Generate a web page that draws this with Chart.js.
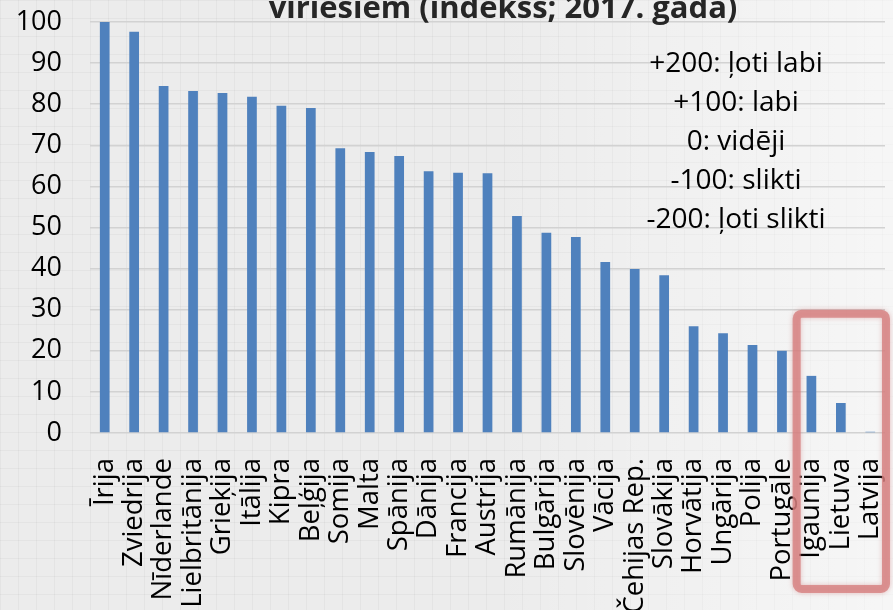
<!DOCTYPE html>
<html>
<head>
<meta charset="utf-8">
<script src="https://cdn.jsdelivr.net/npm/chart.js@4/dist/chart.umd.min.js"></script>
<style>
  html, body { margin: 0; padding: 0; }
  body {
    width: 893px; height: 610px; overflow: hidden;
    background-color: #ececec;
    background-image:
      linear-gradient(to right, rgba(255,255,255,0) 55%, rgba(255,255,255,0.55) 100%),
      repeating-linear-gradient(to right, rgba(0,0,0,0.035) 0 1px, transparent 1px 18px),
      repeating-linear-gradient(to bottom, rgba(0,0,0,0.035) 0 1px, transparent 1px 18px);
  }
  #wrap { position: relative; width: 893px; height: 610px; }
</style>
</head>
<body>
<div id="wrap"><canvas id="chart" width="893" height="610"></canvas></div>
<script>
// Chart data
const countries = ['Īrija', 'Zviedrija', 'Nīderlande', 'Lielbritānija', 'Grieķija', 'Itālija', 'Kipra',
    'Beļģija', 'Somija', 'Malta', 'Spānija', 'Dānija', 'Francija', 'Austrija', 'Rumānija', 'Bulgārija',
    'Slovēnija', 'Vācija', 'Čehijas Rep.', 'Slovākija', 'Horvātija', 'Ungārija', 'Polija', 'Portugāle',
    'Igaunija', 'Lietuva', 'Latvija'];
const indexValues = [100, 97.6, 84.4, 83.2, 82.7, 81.8, 79.6, 79.1, 69.3, 68.4, 67.4, 63.7, 63.3, 63.2,
    52.8, 48.7, 47.7, 41.6, 39.9, 38.4, 26, 24.3, 21.4, 20, 13.9, 7.3, 0.3];
const yTicks = [0, 10, 20, 30, 40, 50, 60, 70, 80, 90, 100];
const scaleNotes = ['+200: ļoti labi', '+100: labi', '0: vidēji', '-100: slikti', '-200: ļoti slikti'];
const titleLine = 'vīriešiem (indekss; 2017. gadā)';
const highlighted = ['Igaunija', 'Lietuva', 'Latvija'];

const FONT = '"Open Sans", sans-serif';

// Title (cut off at top), notes and the red frame
const extras = {
    id: 'extras',
    afterDraw(chart) {
        const ctx = chart.ctx;
        const x = chart.scales.x, y = chart.scales.y;
        ctx.save();
        ctx.fillStyle = '#262626';
        ctx.font = 'bold 31px ' + FONT;
        ctx.textAlign = 'center';
        ctx.textBaseline = 'alphabetic';
        ctx.fillText(titleLine, 503, 18);

        ctx.fillStyle = '#000';
        ctx.font = '28px ' + FONT;
        ctx.textBaseline = 'middle';
        scaleNotes.forEach((t, i) => ctx.fillText(t, 736, 64 + i * 39));

        // frame round the last three countries
        const half = (x.getPixelForValue(1) - x.getPixelForValue(0)) / 2;
        const left = x.getPixelForValue(countries.indexOf(highlighted[0])) - half;
        const right = x.getPixelForValue(countries.indexOf(highlighted[highlighted.length - 1])) + half + 1;
        const top = y.getPixelForValue(30) + 4;
        const bottom = chart.height - 21;
        ctx.strokeStyle = 'rgba(214, 128, 128, 0.8)';
        ctx.lineWidth = 8;
        ctx.shadowColor = 'rgba(200, 90, 90, 0.45)';
        ctx.shadowBlur = 5;
        ctx.beginPath();
        ctx.roundRect(left, top, right - left, bottom - top, 5);
        ctx.stroke();
        ctx.restore();
    }
};

const ctx = document.getElementById('chart').getContext('2d');
const chart = new Chart(ctx, {
    type: 'bar',
    data: {
        labels: countries,
        datasets: [{
            data: indexValues,
            backgroundColor: '#4f81bd',
            borderWidth: 0,
            barPercentage: 0.33,
            categoryPercentage: 1
        }]
    },
    options: {
        responsive: false,
        animation: false,
        layout: { padding: { top: 22, right: 8, left: 0, bottom: 0 } },
        plugins: {
            legend: { display: false },
            tooltip: { enabled: false }
        },
        scales: {
            x: {
                grid: { display: false },
                border: { display: false },
                ticks: {
                    autoSkip: false,
                    minRotation: 90,
                    maxRotation: 90,
                    padding: 17,
                    color: '#000',
                    font: { family: FONT, size: 27.5 }
                },
                afterFit(scale) {
                    scale.height = 177;
                    scale.paddingLeft = 0;
                    scale.paddingRight = 0;
                }
            },
            y: {
                min: 0,
                max: 100,
                afterBuildTicks(scale) { scale.ticks = yTicks.map(v => ({ value: v })); },
                grid: { color: '#d2d2d2', lineWidth: 1.5, drawTicks: false },
                border: { display: false },
                ticks: {
                    padding: 28,
                    color: '#000',
                    font: { family: FONT, size: 27 }
                },
                afterFit(scale) {
                    scale.width = 90;
                    scale.paddingTop = 0;
                    scale.paddingBottom = 0;
                }
            }
        }
    },
    plugins: [extras]
});
</script>
</body>
</html>
